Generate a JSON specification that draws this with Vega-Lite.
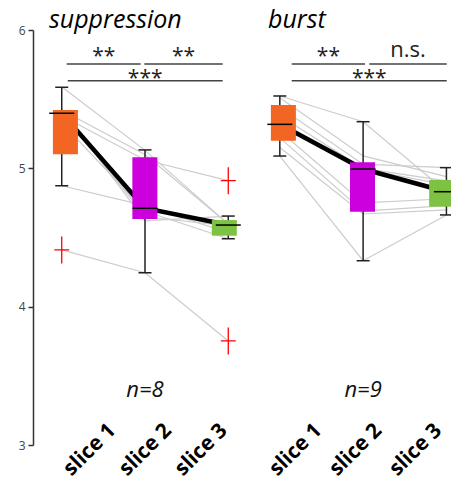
{
"$schema": "https://vega.github.io/schema/vega-lite/v6.json",
"padding": {"left": 18, "top": 8, "right": 0, "bottom": 0},
"spacing": 0,
"config": {"view": {"stroke": null}, "font": "Open Sans"},
"datasets": {
"cells": [
{"panel":"suppression","cell":"A","slice":1,"value":4.41},{"panel":"suppression","cell":"A","slice":2,"value":4.245},{"panel":"suppression","cell":"A","slice":3,"value":3.752},
{"panel":"suppression","cell":"B","slice":1,"value":4.874},{"panel":"suppression","cell":"B","slice":2,"value":4.73},{"panel":"suppression","cell":"B","slice":3,"value":4.535},
{"panel":"suppression","cell":"C","slice":1,"value":5.33},{"panel":"suppression","cell":"C","slice":2,"value":4.69},{"panel":"suppression","cell":"C","slice":3,"value":4.491},
{"panel":"suppression","cell":"D","slice":1,"value":5.38},{"panel":"suppression","cell":"D","slice":2,"value":5.06},{"panel":"suppression","cell":"D","slice":3,"value":4.911},
{"panel":"suppression","cell":"E","slice":1,"value":5.42},{"panel":"suppression","cell":"E","slice":2,"value":4.65},{"panel":"suppression","cell":"E","slice":3,"value":4.583},
{"panel":"suppression","cell":"F","slice":1,"value":5.42},{"panel":"suppression","cell":"F","slice":2,"value":5.10},{"panel":"suppression","cell":"F","slice":3,"value":4.597},
{"panel":"suppression","cell":"G","slice":1,"value":5.43},{"panel":"suppression","cell":"G","slice":2,"value":4.62},{"panel":"suppression","cell":"G","slice":3,"value":4.655},
{"panel":"suppression","cell":"H","slice":1,"value":5.59},{"panel":"suppression","cell":"H","slice":2,"value":5.13},{"panel":"suppression","cell":"H","slice":3,"value":4.597},
{"panel":"burst","cell":"1","slice":1,"value":5.523},{"panel":"burst","cell":"1","slice":2,"value":5.337},{"panel":"burst","cell":"1","slice":3,"value":4.831},
{"panel":"burst","cell":"2","slice":1,"value":5.089},{"panel":"burst","cell":"2","slice":2,"value":4.332},{"panel":"burst","cell":"2","slice":3,"value":4.663},
{"panel":"burst","cell":"3","slice":1,"value":5.15},{"panel":"burst","cell":"3","slice":2,"value":4.67},{"panel":"burst","cell":"3","slice":3,"value":4.70},
{"panel":"burst","cell":"4","slice":1,"value":5.22},{"panel":"burst","cell":"4","slice":2,"value":4.69},{"panel":"burst","cell":"4","slice":3,"value":4.73},
{"panel":"burst","cell":"5","slice":1,"value":5.27},{"panel":"burst","cell":"5","slice":2,"value":4.75},{"panel":"burst","cell":"5","slice":3,"value":4.78},
{"panel":"burst","cell":"6","slice":1,"value":5.318},{"panel":"burst","cell":"6","slice":2,"value":4.995},{"panel":"burst","cell":"6","slice":3,"value":4.88},
{"panel":"burst","cell":"7","slice":1,"value":5.38},{"panel":"burst","cell":"7","slice":2,"value":5.00},{"panel":"burst","cell":"7","slice":3,"value":4.91},
{"panel":"burst","cell":"8","slice":1,"value":5.44},{"panel":"burst","cell":"8","slice":2,"value":5.03},{"panel":"burst","cell":"8","slice":3,"value":5.005},
{"panel":"burst","cell":"9","slice":1,"value":5.51},{"panel":"burst","cell":"9","slice":2,"value":5.09},{"panel":"burst","cell":"9","slice":3,"value":4.94}
],
"boxes": [
{"panel":"suppression","slice":1,"name":"slice 1","lo":4.874,"q1":5.101,"med":5.398,"q3":5.422,"hi":5.586},
{"panel":"suppression","slice":2,"name":"slice 2","lo":4.245,"q1":4.634,"med":4.711,"q3":5.080,"hi":5.133},
{"panel":"suppression","slice":3,"name":"slice 3","lo":4.491,"q1":4.513,"med":4.590,"q3":4.626,"hi":4.655},
{"panel":"burst","slice":1,"name":"slice 1","lo":5.089,"q1":5.200,"med":5.318,"q3":5.458,"hi":5.523},
{"panel":"burst","slice":2,"name":"slice 2","lo":4.332,"q1":4.687,"med":4.995,"q3":5.044,"hi":5.337},
{"panel":"burst","slice":3,"name":"slice 3","lo":4.663,"q1":4.723,"med":4.831,"q3":4.916,"hi":5.005}
],
"outliers": [
{"panel":"suppression","slice":1,"value":4.41},
{"panel":"suppression","slice":3,"value":4.911},
{"panel":"suppression","slice":3,"value":3.752}
],
"sig": [
{"id":1,"panel":"suppression","from":1.06,"to":1.948,"y":5.754,"label":"**"},
{"id":2,"panel":"suppression","from":1.992,"to":2.933,"y":5.754,"label":"**"},
{"id":3,"panel":"suppression","from":1.072,"to":2.933,"y":5.633,"label":"***"},
{"id":4,"panel":"burst","from":1.143,"to":2.023,"y":5.754,"label":"**"},
{"id":5,"panel":"burst","from":2.074,"to":3.004,"y":5.754,"label":"n.s."},
{"id":6,"panel":"burst","from":1.143,"to":3.004,"y":5.633,"label":"***"}
]
},
"hconcat": [
{
"width": 218, "height": 415,
"resolve": {"scale": {"x": "independent"}},
"layer": [
{"data": {"name": "cells"}, "transform": [{"filter": "datum.panel === 'suppression'"}],
 "mark": {"type": "line", "color": "#cccccc", "strokeWidth": 1.2},
 "encoding": {
  "x": {"field": "slice", "type": "quantitative", "scale": {"domain": [0.655, 3.273], "nice": false, "zero": false}, "axis": null},
  "y": {"field": "value", "type": "quantitative", "scale": {"domain": [3, 6], "nice": false, "zero": false}, "title": null,
        "axis": {"values": [3, 4, 5, 6], "format": "d", "grid": false, "domainColor": "#333333", "domainWidth": 1.5, "tickColor": "#333333", "tickWidth": 1.5, "tickSize": 5, "labelFontSize": 12, "labelColor": "#444444", "labelPadding": 3}},
  "detail": {"field": "cell"}}},
{"data": {"name": "boxes"}, "transform": [{"filter": "datum.panel === 'suppression'"}],
 "mark": {"type": "line", "color": "#000000", "strokeWidth": 4.5},
 "encoding": {
  "x": {"field": "slice", "type": "quantitative", "scale": {"domain": [0.655, 3.273], "nice": false, "zero": false}, "axis": null},
  "y": {"field": "med", "type": "quantitative", "title": null}}},
{"data": {"name": "boxes"}, "transform": [{"filter": "datum.panel === 'suppression'"}],
 "mark": {"type": "rule", "color": "#222222", "strokeWidth": 1.5},
 "encoding": {
  "x": {"field": "slice", "type": "quantitative", "scale": {"domain": [0.655, 3.273], "nice": false, "zero": false}, "axis": null},
  "y": {"field": "lo", "type": "quantitative", "title": null}, "y2": {"field": "hi"}}},
{"data": {"name": "boxes"}, "transform": [{"filter": "datum.panel === 'suppression'"}],
 "mark": {"type": "bar", "size": 25, "opacity": 1},
 "encoding": {
  "x": {"field": "slice", "type": "quantitative", "scale": {"domain": [0.655, 3.273], "nice": false, "zero": false}, "axis": null},
  "y": {"field": "q1", "type": "quantitative", "title": null}, "y2": {"field": "q3"},
  "color": {"field": "slice", "type": "nominal", "scale": {"domain": [1, 2, 3], "range": ["#f26522", "#cc00dd", "#7dc242"]}, "legend": null}}},
{"data": {"name": "boxes"}, "transform": [{"filter": "datum.panel === 'suppression'"}],
 "mark": {"type": "tick", "orient": "horizontal", "size": 25, "thickness": 1.5, "color": "#000000", "opacity": 1},
 "encoding": {
  "x": {"field": "slice", "type": "quantitative", "scale": {"domain": [0.655, 3.273], "nice": false, "zero": false}, "axis": null},
  "y": {"field": "med", "type": "quantitative", "title": null}}},
{"data": {"name": "boxes"}, "transform": [{"filter": "datum.panel === 'suppression'"}],
 "mark": {"type": "tick", "orient": "horizontal", "size": 13, "thickness": 1.5, "color": "#222222", "opacity": 1},
 "encoding": {
  "x": {"field": "slice", "type": "quantitative", "scale": {"domain": [0.655, 3.273], "nice": false, "zero": false}, "axis": null},
  "y": {"field": "lo", "type": "quantitative", "title": null}}},
{"data": {"name": "boxes"}, "transform": [{"filter": "datum.panel === 'suppression'"}],
 "mark": {"type": "tick", "orient": "horizontal", "size": 13, "thickness": 1.5, "color": "#222222", "opacity": 1},
 "encoding": {
  "x": {"field": "slice", "type": "quantitative", "scale": {"domain": [0.655, 3.273], "nice": false, "zero": false}, "axis": null},
  "y": {"field": "hi", "type": "quantitative", "title": null}}},
{"data": {"name": "outliers"}, "transform": [{"filter": "datum.panel === 'suppression'"}],
 "mark": {"type": "point", "shape": "M-0.55,0H0.55M0,-1V1", "size": 729, "filled": false, "color": "#ff0000", "strokeWidth": 1.3, "opacity": 1},
 "encoding": {
  "x": {"field": "slice", "type": "quantitative", "scale": {"domain": [0.655, 3.273], "nice": false, "zero": false}, "axis": null},
  "y": {"field": "value", "type": "quantitative", "title": null}}},
{"data": {"name": "sig"}, "transform": [{"filter": "datum.panel === 'suppression'"}],
 "mark": {"type": "rule", "color": "#444444", "strokeWidth": 1.5},
 "encoding": {
  "x": {"field": "from", "type": "quantitative", "scale": {"domain": [0.655, 3.273], "nice": false, "zero": false}, "axis": null},
  "x2": {"field": "to"},
  "y": {"field": "y", "type": "quantitative", "title": null}}},
{"data": {"name": "sig"}, "transform": [{"filter": "datum.panel === 'suppression' && datum.label === '**'"}, {"fold": ["from", "to"], "as": ["end", "pos"]}],
 "mark": {"type": "text", "fontSize": 21, "color": "#222222", "baseline": "alphabetic", "dy": -1},
 "encoding": {
  "x": {"aggregate": "mean", "field": "pos", "type": "quantitative", "scale": {"domain": [0.655, 3.273], "nice": false, "zero": false}, "axis": null},
  "y": {"field": "y", "type": "quantitative", "title": null},
  "text": {"field": "label"}, "detail": {"field": "id"}}},
{"data": {"name": "sig"}, "transform": [{"filter": "datum.panel === 'suppression' && datum.label === '***'"}, {"fold": ["from", "to"], "as": ["end", "pos"]}],
 "mark": {"type": "text", "fontSize": 21, "color": "#222222", "baseline": "alphabetic", "dy": 4},
 "encoding": {
  "x": {"aggregate": "mean", "field": "pos", "type": "quantitative", "scale": {"domain": [0.655, 3.273], "nice": false, "zero": false}, "axis": null},
  "y": {"field": "y", "type": "quantitative", "title": null},
  "text": {"field": "label"}, "detail": {"field": "id"}}},
{"data": {"name": "boxes"}, "transform": [{"filter": "datum.panel === 'suppression' && datum.slice === 2"}],
 "mark": {"type": "text", "fontSize": 22, "fontStyle": "italic", "color": "#111111", "baseline": "alphabetic"},
 "encoding": {
  "x": {"field": "slice", "type": "quantitative", "scale": {"domain": [0.655, 3.273], "nice": false, "zero": false}, "axis": null},
  "y": {"datum": 3.349, "type": "quantitative"},
  "text": {"value": "n=8"}}},
{"data": {"name": "boxes"}, "transform": [{"filter": "datum.panel === 'suppression' && datum.slice === 1"}],
 "mark": {"type": "text", "fontSize": 25, "fontStyle": "italic", "color": "#000000", "align": "left", "baseline": "alphabetic", "yOffset": -2},
 "encoding": {
  "x": {"datum": 0.847, "type": "quantitative", "scale": {"domain": [0.655, 3.273], "nice": false, "zero": false}, "axis": null},
  "y": {"datum": 6, "type": "quantitative"},
  "text": {"value": "suppression"}}},
{"data": {"name": "boxes"}, "transform": [{"filter": "datum.panel === 'suppression'"}],
 "mark": {"type": "text", "fontSize": 21, "fontWeight": "bold", "color": "#000000", "angle": -45, "align": "center", "baseline": "middle", "yOffset": 5},
 "encoding": {
  "x": {"field": "name", "type": "ordinal", "scale": {"type": "point", "padding": 0.955, "align": 0.535}, "axis": null},
  "y": {"datum": 3, "type": "quantitative"},
  "text": {"field": "name"}}}
]
},
{
"width": 200, "height": 415,
"resolve": {"scale": {"x": "independent"}},
"layer": [
{"data": {"name": "cells"}, "transform": [{"filter": "datum.panel === 'burst'"}],
 "mark": {"type": "line", "color": "#cccccc", "strokeWidth": 1.2, "clip": true},
 "encoding": {
  "x": {"field": "slice", "type": "quantitative", "scale": {"domain": [0.654, 3.055], "nice": false, "zero": false}, "axis": null},
  "y": {"field": "value", "type": "quantitative", "scale": {"domain": [3, 6], "nice": false, "zero": false}, "title": null, "axis": null},
  "detail": {"field": "cell"}}},
{"data": {"name": "boxes"}, "transform": [{"filter": "datum.panel === 'burst'"}],
 "mark": {"type": "line", "color": "#000000", "strokeWidth": 4.5, "clip": true},
 "encoding": {
  "x": {"field": "slice", "type": "quantitative", "scale": {"domain": [0.654, 3.055], "nice": false, "zero": false}, "axis": null},
  "y": {"field": "med", "type": "quantitative", "title": null, "axis": null}}},
{"data": {"name": "boxes"}, "transform": [{"filter": "datum.panel === 'burst'"}],
 "mark": {"type": "rule", "color": "#222222", "strokeWidth": 1.5, "clip": true},
 "encoding": {
  "x": {"field": "slice", "type": "quantitative", "scale": {"domain": [0.654, 3.055], "nice": false, "zero": false}, "axis": null},
  "y": {"field": "lo", "type": "quantitative", "title": null, "axis": null}, "y2": {"field": "hi"}}},
{"data": {"name": "boxes"}, "transform": [{"filter": "datum.panel === 'burst'"}],
 "mark": {"type": "bar", "size": 25, "opacity": 1, "clip": true},
 "encoding": {
  "x": {"field": "slice", "type": "quantitative", "scale": {"domain": [0.654, 3.055], "nice": false, "zero": false}, "axis": null},
  "y": {"field": "q1", "type": "quantitative", "title": null, "axis": null}, "y2": {"field": "q3"},
  "color": {"field": "slice", "type": "nominal", "scale": {"domain": [1, 2, 3], "range": ["#f26522", "#cc00dd", "#7dc242"]}, "legend": null}}},
{"data": {"name": "boxes"}, "transform": [{"filter": "datum.panel === 'burst'"}],
 "mark": {"type": "tick", "orient": "horizontal", "size": 25, "thickness": 1.5, "color": "#000000", "opacity": 1, "clip": true},
 "encoding": {
  "x": {"field": "slice", "type": "quantitative", "scale": {"domain": [0.654, 3.055], "nice": false, "zero": false}, "axis": null},
  "y": {"field": "med", "type": "quantitative", "title": null, "axis": null}}},
{"data": {"name": "boxes"}, "transform": [{"filter": "datum.panel === 'burst'"}],
 "mark": {"type": "tick", "orient": "horizontal", "size": 13, "thickness": 1.5, "color": "#222222", "opacity": 1, "clip": true},
 "encoding": {
  "x": {"field": "slice", "type": "quantitative", "scale": {"domain": [0.654, 3.055], "nice": false, "zero": false}, "axis": null},
  "y": {"field": "lo", "type": "quantitative", "title": null, "axis": null}}},
{"data": {"name": "boxes"}, "transform": [{"filter": "datum.panel === 'burst'"}],
 "mark": {"type": "tick", "orient": "horizontal", "size": 13, "thickness": 1.5, "color": "#222222", "opacity": 1, "clip": true},
 "encoding": {
  "x": {"field": "slice", "type": "quantitative", "scale": {"domain": [0.654, 3.055], "nice": false, "zero": false}, "axis": null},
  "y": {"field": "hi", "type": "quantitative", "title": null, "axis": null}}},
{"data": {"name": "sig"}, "transform": [{"filter": "datum.panel === 'burst'"}],
 "mark": {"type": "rule", "color": "#444444", "strokeWidth": 1.5},
 "encoding": {
  "x": {"field": "from", "type": "quantitative", "scale": {"domain": [0.654, 3.055], "nice": false, "zero": false}, "axis": null},
  "x2": {"field": "to"},
  "y": {"field": "y", "type": "quantitative", "title": null, "axis": null}}},
{"data": {"name": "sig"}, "transform": [{"filter": "datum.panel === 'burst' && datum.label === '**'"}, {"fold": ["from", "to"], "as": ["end", "pos"]}],
 "mark": {"type": "text", "fontSize": 21, "color": "#222222", "baseline": "alphabetic", "dy": -1},
 "encoding": {
  "x": {"aggregate": "mean", "field": "pos", "type": "quantitative", "scale": {"domain": [0.654, 3.055], "nice": false, "zero": false}, "axis": null},
  "y": {"field": "y", "type": "quantitative", "title": null, "axis": null},
  "text": {"field": "label"}, "detail": {"field": "id"}}},
{"data": {"name": "sig"}, "transform": [{"filter": "datum.panel === 'burst' && datum.label === '***'"}, {"fold": ["from", "to"], "as": ["end", "pos"]}],
 "mark": {"type": "text", "fontSize": 21, "color": "#222222", "baseline": "alphabetic", "dy": 4},
 "encoding": {
  "x": {"aggregate": "mean", "field": "pos", "type": "quantitative", "scale": {"domain": [0.654, 3.055], "nice": false, "zero": false}, "axis": null},
  "y": {"field": "y", "type": "quantitative", "title": null, "axis": null},
  "text": {"field": "label"}, "detail": {"field": "id"}}},
{"data": {"name": "sig"}, "transform": [{"filter": "datum.panel === 'burst' && datum.label === 'n.s.'"}, {"fold": ["from", "to"], "as": ["end", "pos"]}],
 "mark": {"type": "text", "fontSize": 22, "color": "#222222", "baseline": "alphabetic", "dy": -7},
 "encoding": {
  "x": {"aggregate": "mean", "field": "pos", "type": "quantitative", "scale": {"domain": [0.654, 3.055], "nice": false, "zero": false}, "axis": null},
  "y": {"field": "y", "type": "quantitative", "title": null, "axis": null},
  "text": {"field": "label"}, "detail": {"field": "id"}}},
{"data": {"name": "boxes"}, "transform": [{"filter": "datum.panel === 'burst' && datum.slice === 2"}],
 "mark": {"type": "text", "fontSize": 22, "fontStyle": "italic", "color": "#111111", "baseline": "alphabetic"},
 "encoding": {
  "x": {"field": "slice", "type": "quantitative", "scale": {"domain": [0.654, 3.055], "nice": false, "zero": false}, "axis": null},
  "y": {"datum": 3.349, "type": "quantitative", "axis": null},
  "text": {"value": "n=9"}}},
{"data": {"name": "boxes"}, "transform": [{"filter": "datum.panel === 'burst' && datum.slice === 1"}],
 "mark": {"type": "text", "fontSize": 25, "fontStyle": "italic", "color": "#000000", "align": "left", "baseline": "alphabetic", "yOffset": -2},
 "encoding": {
  "x": {"datum": 0.858, "type": "quantitative", "scale": {"domain": [0.654, 3.055], "nice": false, "zero": false}, "axis": null},
  "y": {"datum": 6, "type": "quantitative", "axis": null},
  "text": {"value": "burst"}}},
{"data": {"name": "boxes"}, "transform": [{"filter": "datum.panel === 'burst'"}],
 "mark": {"type": "text", "fontSize": 21, "fontWeight": "bold", "color": "#000000", "angle": -45, "align": "center", "baseline": "middle", "yOffset": 5},
 "encoding": {
  "x": {"field": "name", "type": "ordinal", "scale": {"type": "point", "padding": 0.667, "align": 0.56}, "axis": null},
  "y": {"datum": 3, "type": "quantitative", "axis": null},
  "text": {"field": "name"}}}
]
}
]
}
